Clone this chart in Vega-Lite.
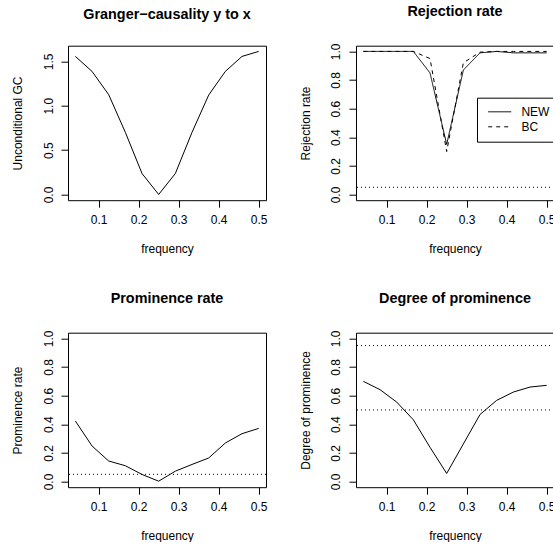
{
  "$schema": "https://vega.github.io/schema/vega-lite/v6.json",
  "background": "white",
  "padding": {"left": 10, "top": 2.7, "right": 0, "bottom": 0},
  "bounds": "flush",
  "columns": 2,
  "spacing": {"row": 132, "column": 90},
  "datasets": {
    "gc": [
      {"f": 0.041667, "gc": 1.556}, {"f": 0.083333, "gc": 1.387}, {"f": 0.125, "gc": 1.125},
      {"f": 0.166667, "gc": 0.70}, {"f": 0.208333, "gc": 0.236}, {"f": 0.25, "gc": 0.0},
      {"f": 0.291667, "gc": 0.236}, {"f": 0.333333, "gc": 0.70}, {"f": 0.375, "gc": 1.12},
      {"f": 0.416667, "gc": 1.387}, {"f": 0.458333, "gc": 1.556}, {"f": 0.5, "gc": 1.612}
    ],
    "rej": [
      {"f": 0.041667, "method": "NEW", "rate": 1.0}, {"f": 0.083333, "method": "NEW", "rate": 1.0},
      {"f": 0.125, "method": "NEW", "rate": 1.0}, {"f": 0.166667, "method": "NEW", "rate": 1.0},
      {"f": 0.208333, "method": "NEW", "rate": 0.85}, {"f": 0.25, "method": "NEW", "rate": 0.35},
      {"f": 0.291667, "method": "NEW", "rate": 0.87}, {"f": 0.333333, "method": "NEW", "rate": 0.99},
      {"f": 0.375, "method": "NEW", "rate": 1.0}, {"f": 0.416667, "method": "NEW", "rate": 0.99},
      {"f": 0.458333, "method": "NEW", "rate": 0.99}, {"f": 0.5, "method": "NEW", "rate": 0.99},
      {"f": 0.041667, "method": "BC", "rate": 1.0}, {"f": 0.083333, "method": "BC", "rate": 1.0},
      {"f": 0.125, "method": "BC", "rate": 1.0}, {"f": 0.166667, "method": "BC", "rate": 1.0},
      {"f": 0.208333, "method": "BC", "rate": 0.95}, {"f": 0.25, "method": "BC", "rate": 0.30},
      {"f": 0.291667, "method": "BC", "rate": 0.92}, {"f": 0.333333, "method": "BC", "rate": 0.995},
      {"f": 0.375, "method": "BC", "rate": 1.0}, {"f": 0.416667, "method": "BC", "rate": 1.0},
      {"f": 0.458333, "method": "BC", "rate": 1.0}, {"f": 0.5, "method": "BC", "rate": 1.0}
    ],
    "prom": [
      {"f": 0.041667, "rate": 0.423}, {"f": 0.083333, "rate": 0.248}, {"f": 0.125, "rate": 0.143},
      {"f": 0.166667, "rate": 0.11}, {"f": 0.208333, "rate": 0.049}, {"f": 0.25, "rate": 0.002},
      {"f": 0.291667, "rate": 0.072}, {"f": 0.333333, "rate": 0.119}, {"f": 0.375, "rate": 0.164},
      {"f": 0.416667, "rate": 0.269}, {"f": 0.458333, "rate": 0.334}, {"f": 0.5, "rate": 0.371}
    ],
    "deg": [
      {"f": 0.041667, "deg": 0.700}, {"f": 0.083333, "deg": 0.642}, {"f": 0.125, "deg": 0.555},
      {"f": 0.166667, "deg": 0.431}, {"f": 0.208333, "deg": 0.239}, {"f": 0.25, "deg": 0.056},
      {"f": 0.291667, "deg": 0.262}, {"f": 0.333333, "deg": 0.468}, {"f": 0.375, "deg": 0.567},
      {"f": 0.416667, "deg": 0.625}, {"f": 0.458333, "deg": 0.66}, {"f": 0.5, "deg": 0.672}
    ],
    "rej_ref": [{"f": 0.3, "rate": 0.05}],
    "prom_ref": [{"f": 0.3, "rate": 0.05}],
    "deg_ref": [{"f": 0.3, "deg": 0.95}, {"f": 0.3, "deg": 0.5}]
  },
  "config": {
    "font": "Liberation Sans",
    "view": {"stroke": "black", "strokeWidth": 1},
    "axis": {
      "domain": false, "grid": false, "ticks": true, "tickColor": "black", "tickSize": 7, "tickWidth": 1,
      "labelColor": "black", "labelFontSize": 12, "labelFont": "Liberation Sans",
      "titleFont": "Liberation Sans", "titleFontSize": 12, "titleFontWeight": "normal", "titleColor": "black"
    },
    "axisX": {"labelBaseline": "top", "labelPadding": 7, "labelAngle": 0, "titleBaseline": "alphabetic", "titlePadding": 27},
    "axisY": {"labelAngle": 270, "labelAlign": "center", "labelBaseline": "alphabetic", "labelPadding": 9, "titleBaseline": "alphabetic", "titlePadding": 20.5},
    "title": {"font": "Liberation Sans", "fontSize": 14.4, "fontWeight": "bold", "color": "black", "anchor": "middle", "frame": "group", "baseline": "alphabetic", "offset": 23.5},
    "line": {"color": "black", "strokeWidth": 1},
    "rule": {"color": "black", "strokeWidth": 1, "strokeDash": [1, 3]}
  },
  "concat": [
    {
      "width": 198, "height": 154.5,
      "title": {"text": "Granger−causality y to x"},
      "data": {"name": "gc"},
      "mark": {"type": "line"},
      "encoding": {
        "x": {"field": "f", "type": "quantitative", "scale": {"domain": [0.0233, 0.5183], "nice": false, "zero": false},
              "axis": {"values": [0.1, 0.2, 0.3, 0.4, 0.5], "format": ".1f", "title": "frequency"}},
        "y": {"field": "gc", "type": "quantitative", "scale": {"domain": [-0.0645, 1.6765], "nice": false, "zero": false},
              "axis": {"values": [0, 0.5, 1, 1.5], "format": ".1f", "title": "Unconditional GC"}}
      }
    },
    {
      "width": 198, "height": 154.5,
      "title": {"text": "Rejection rate"},
      "encoding": {
        "x": {"field": "f", "type": "quantitative", "scale": {"domain": [0.0233, 0.5183], "nice": false, "zero": false},
              "axis": {"values": [0.1, 0.2, 0.3, 0.4, 0.5], "format": ".1f", "title": "frequency"}},
        "y": {"field": "rate", "type": "quantitative", "scale": {"domain": [-0.04, 1.04], "nice": false, "zero": false},
              "axis": {"values": [0, 0.2, 0.4, 0.6, 0.8, 1.0], "format": ".1f", "title": "Rejection rate"}}
      },
      "layer": [
        {
          "data": {"name": "rej"},
          "mark": {"type": "line"},
          "encoding": {
            "strokeDash": {"field": "method", "type": "nominal",
              "scale": {"domain": ["NEW", "BC"], "range": [[1, 0], [4, 4]]},
              "legend": {"title": null, "orient": "none", "legendX": 409, "legendY": 52,
                "strokeColor": "black", "fillColor": "white", "padding": 6.6, "cornerRadius": 0,
                "symbolType": "stroke", "symbolSize": 529, "symbolStrokeWidth": 1, "symbolStrokeColor": "black",
                "symbolOffset": 4.1, "labelFontSize": 12, "labelColor": "black", "labelFont": "Liberation Sans",
                "labelOffset": 9.7, "rowPadding": 0, "clipHeight": 15}}
          }
        },
        {
          "data": {"name": "rej_ref"},
          "mark": {"type": "rule"},
          "encoding": {"x": null}
        }
      ]
    },
    {
      "width": 198, "height": 154.5,
      "title": {"text": "Prominence rate"},
      "encoding": {
        "x": {"field": "f", "type": "quantitative", "scale": {"domain": [0.0233, 0.5183], "nice": false, "zero": false},
              "axis": {"values": [0.1, 0.2, 0.3, 0.4, 0.5], "format": ".1f", "title": "frequency"}},
        "y": {"field": "rate", "type": "quantitative", "scale": {"domain": [-0.04, 1.04], "nice": false, "zero": false},
              "axis": {"values": [0, 0.2, 0.4, 0.6, 0.8, 1.0], "format": ".1f", "title": "Prominence rate"}}
      },
      "layer": [
        {
          "data": {"name": "prom"},
          "mark": {"type": "line"}
        },
        {
          "data": {"name": "prom_ref"},
          "mark": {"type": "rule"},
          "encoding": {"x": null}
        }
      ]
    },
    {
      "width": 198, "height": 154.5,
      "title": {"text": "Degree of prominence"},
      "encoding": {
        "x": {"field": "f", "type": "quantitative", "scale": {"domain": [0.0233, 0.5183], "nice": false, "zero": false},
              "axis": {"values": [0.1, 0.2, 0.3, 0.4, 0.5], "format": ".1f", "title": "frequency"}},
        "y": {"field": "deg", "type": "quantitative", "scale": {"domain": [-0.04, 1.04], "nice": false, "zero": false},
              "axis": {"values": [0, 0.2, 0.4, 0.6, 0.8, 1.0], "format": ".1f", "title": "Degree of prominence"}}
      },
      "layer": [
        {
          "data": {"name": "deg"},
          "mark": {"type": "line"}
        },
        {
          "data": {"name": "deg_ref"},
          "mark": {"type": "rule"},
          "encoding": {"x": null}
        }
      ]
    }
  ]
}
